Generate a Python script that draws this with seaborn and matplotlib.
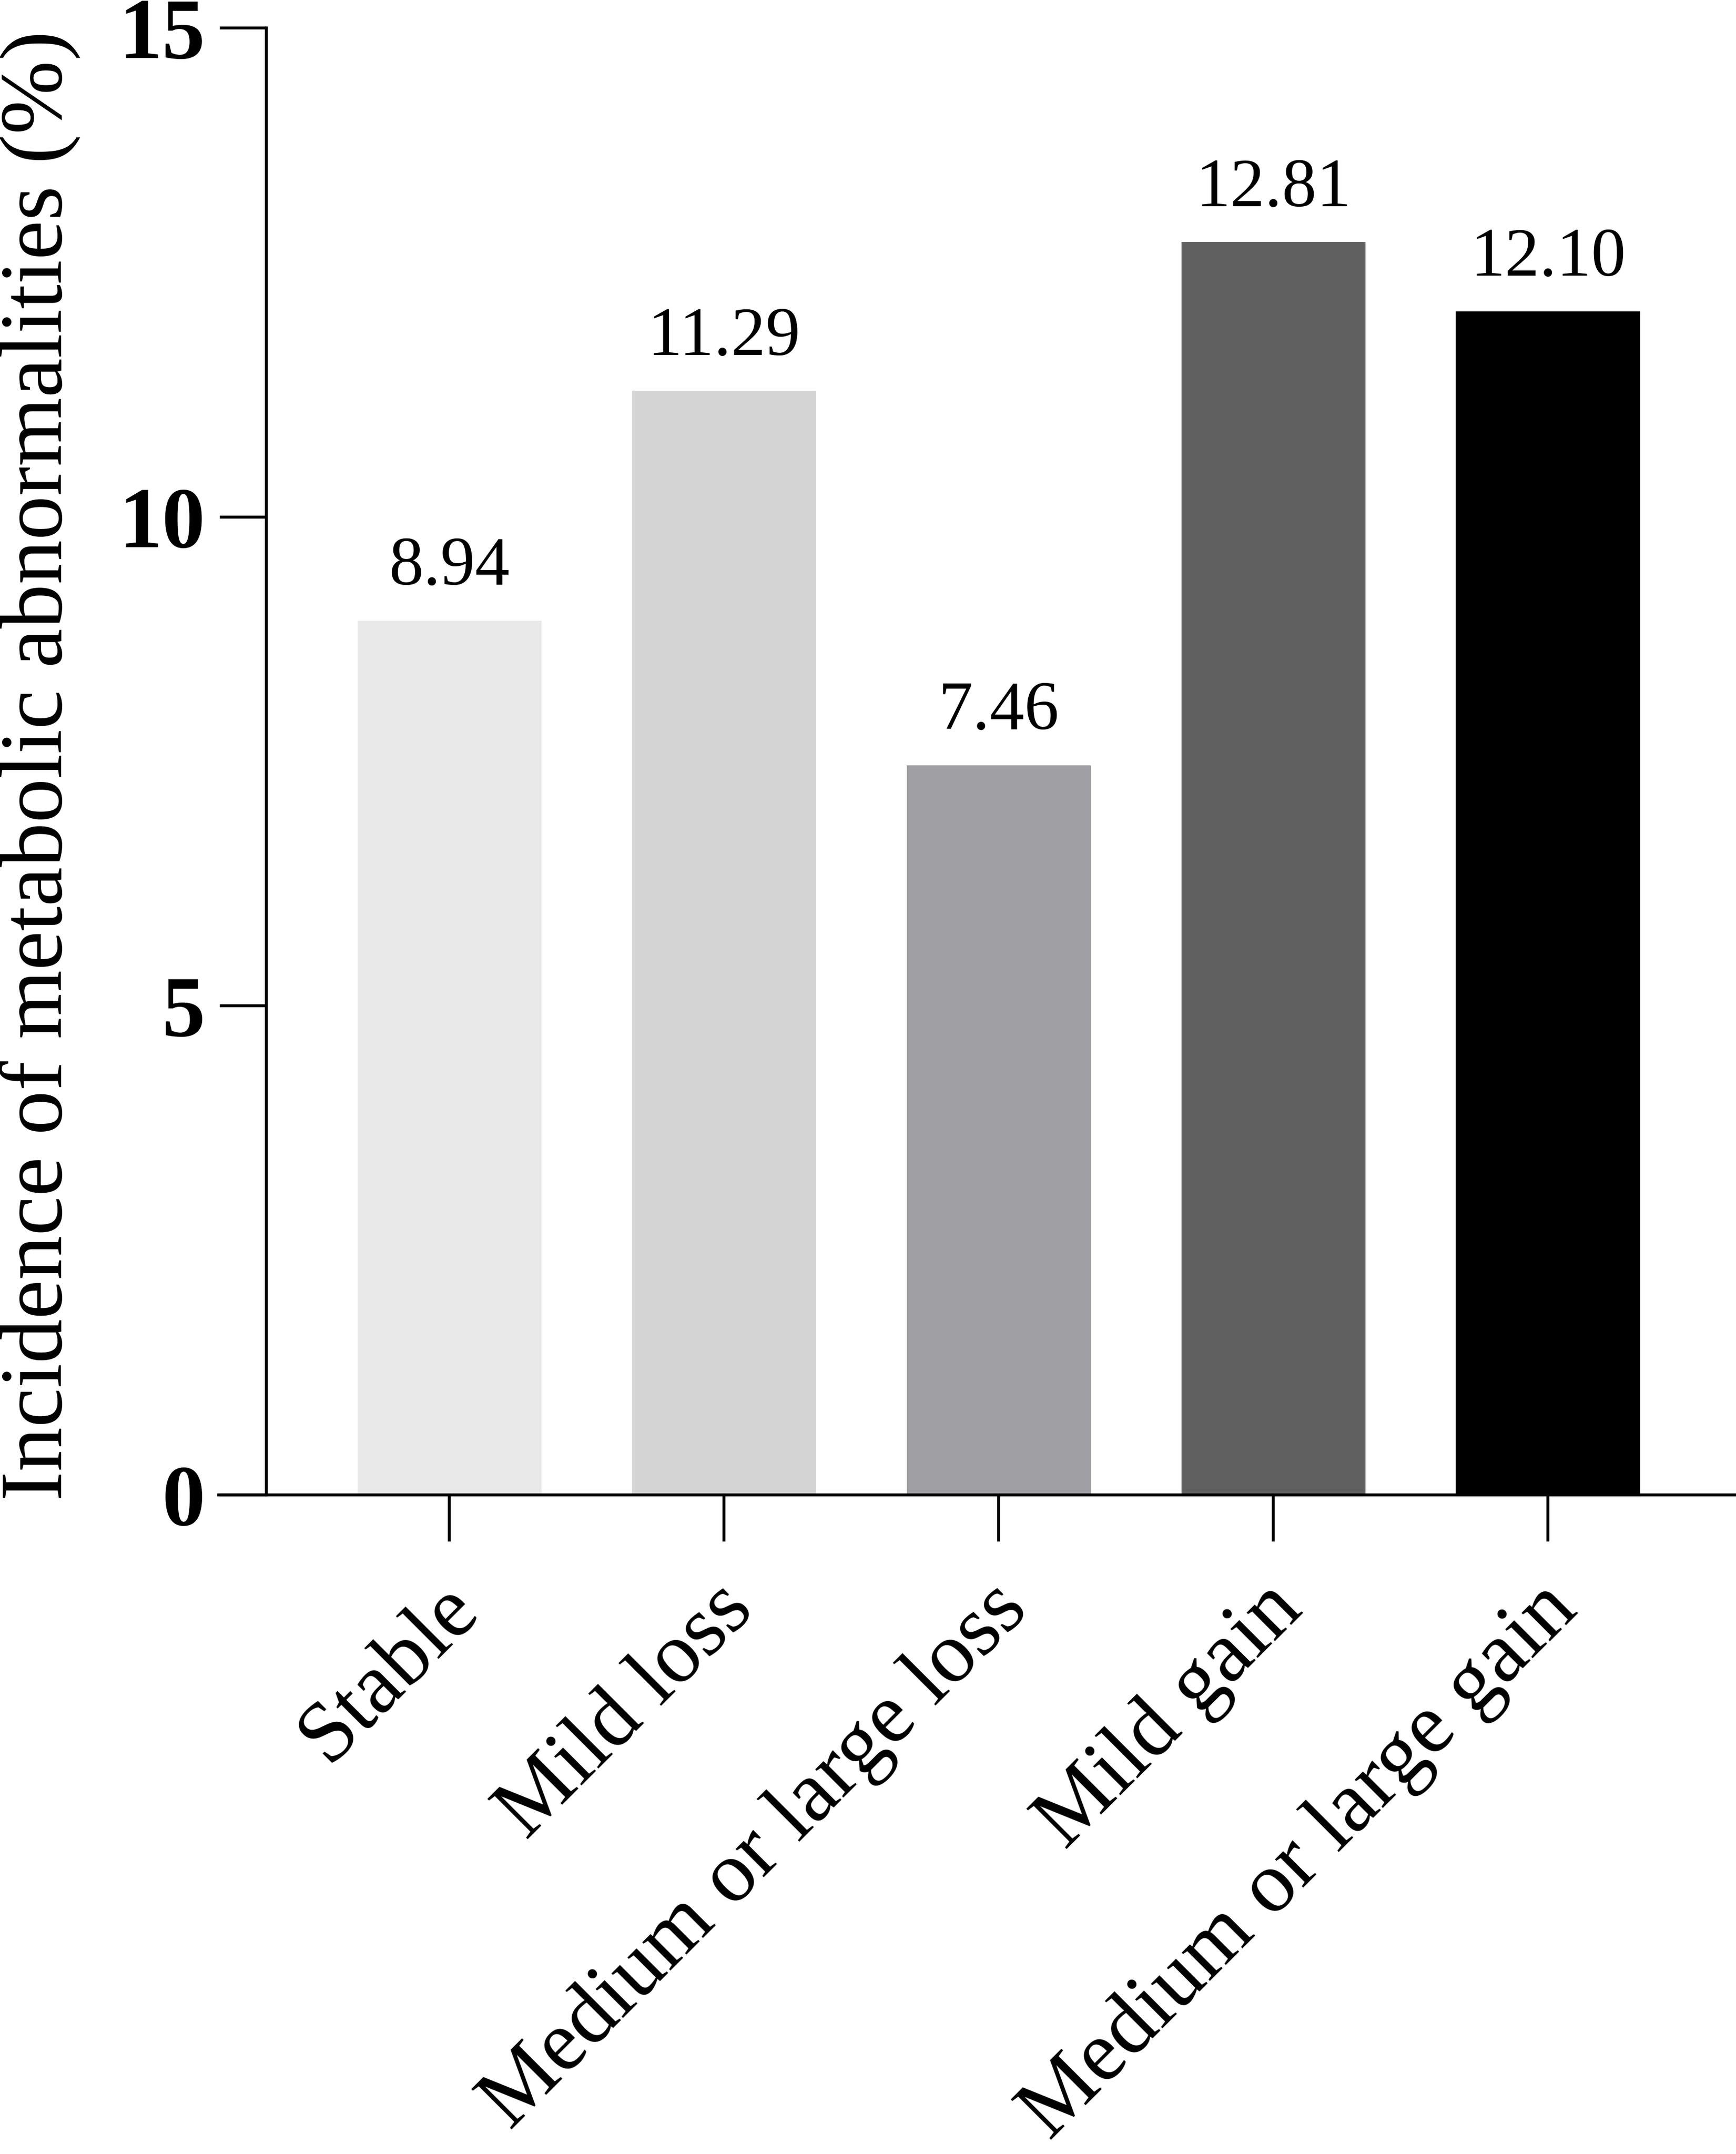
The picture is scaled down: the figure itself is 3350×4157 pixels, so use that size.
import numpy as np
import pandas as pd
import seaborn as sns
import matplotlib.pyplot as plt
import matplotlib.transforms as mtransforms

categories = ["Stable", "Mild loss", "Medium or large loss", "Mild gain", "Medium or large gain"]
incidence = [8.94, 11.29, 7.46, 12.81, 12.10]
bar_colors = ["#e9e9e9", "#d4d4d4", "#a0a0a4", "#606060", "#000000"]
y_ticks = [0, 5, 10, 15]

sns.set_theme(style="ticks")
plt.rcParams["font.family"] = ["Liberation Serif", "DejaVu Serif"]
for key in ["text.color", "axes.labelcolor", "xtick.color", "ytick.color", "axes.edgecolor"]:
    plt.rcParams[key] = "black"

df = pd.DataFrame({"group": categories, "incidence": incidence})

fig = plt.figure(figsize=(33.5, 41.57), dpi=100)
ax = fig.add_axes([0.126, 0.306, 0.874, 0.681])

sns.barplot(data=df, x="group", y="incidence", hue="group", palette=bar_colors,
            width=0.67, saturation=1, legend=False, linewidth=0, ax=ax)

# value labels above bars
for cont in ax.containers:
    ax.bar_label(cont, fmt="%.2f", padding=30, fontsize=96, color="black")

ax.set_xlim(-0.84, 4.685)
ax.set_ylim(0, 15)
ax.set_yticks(y_ticks)

# axes style: left spine moved right, bottom line runs out to the y ticks
ax.spines["top"].set_visible(False)
ax.spines["right"].set_visible(False)
ax.spines["left"].set_position(("data", -0.666))
for s in ["left", "bottom"]:
    ax.spines[s].set_linewidth(4)
    ax.spines[s].set_color("black")

ax.tick_params(axis="both", length=65, width=4, color="black", direction="out")
ax.tick_params(axis="y", pad=20, labelsize=120)
for lab in ax.get_yticklabels():
    lab.set_fontweight("bold")

ax.set_xticks(range(len(categories)))
ax.set_xticklabels(categories, rotation=45, ha="right", rotation_mode="anchor", fontsize=120)
ax.tick_params(axis="x", pad=38)
shift = mtransforms.ScaledTranslation(-16 / 72, 0, fig.dpi_scale_trans)
for lab in ax.get_xticklabels():
    lab.set_transform(lab.get_transform() + shift)

ax.set_xlabel("")
ax.set_ylabel("Incidence of metabolic abnormalities (%)", fontsize=123)
ax.yaxis.set_label_coords(-0.091, 0.497)

fig.savefig("out.png", dpi=100, facecolor="white")
